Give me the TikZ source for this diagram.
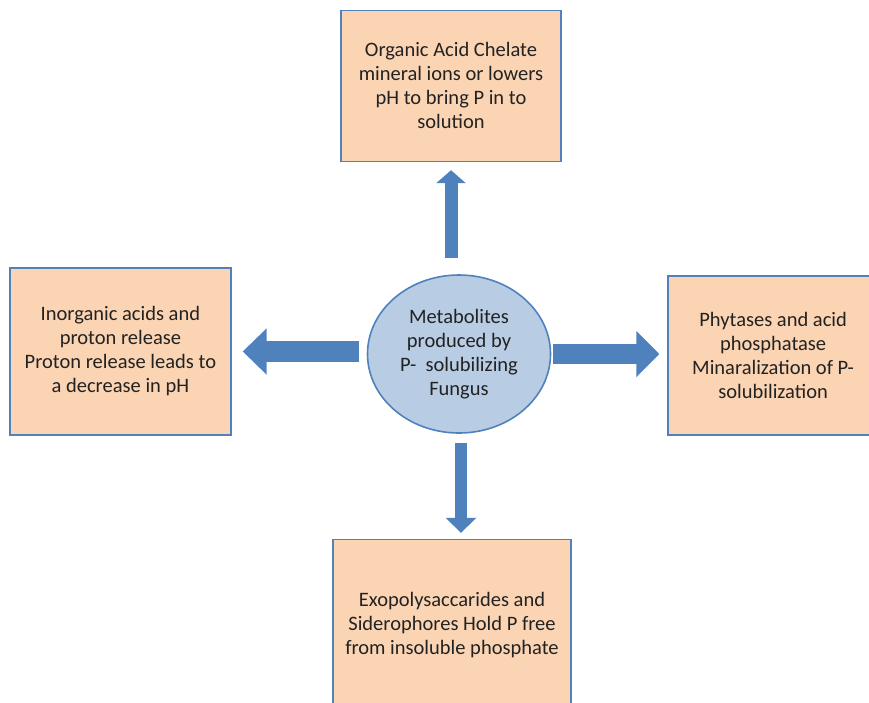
\documentclass[tikz,border=0pt]{standalone}
\usepackage{fontspec}
\setmainfont{Carlito}
\usepackage{xcolor}
\usepackage{tikz}
\usetikzlibrary{arrows.meta,positioning,shapes.geometric}

\definecolor{peach}{HTML}{FBD4B4}
\definecolor{edgeblue}{HTML}{4F81BD}
\definecolor{paleblue}{HTML}{B8CCE4}
\definecolor{inkgray}{HTML}{222222}

\begin{document}
\begin{tikzpicture}[
  x=1pt, y=-1pt,
  every node/.style={font=\fontsize{20.5}{24}\selectfont, text=inkgray},
  box/.style={draw=edgeblue, line width=1.6pt, fill=peach, align=center},
  hub/.style={ellipse, draw=edgeblue, line width=1.6pt, fill=paleblue, align=center,
    minimum width=183pt, minimum height=158pt, inner sep=0pt},
  blockarrow/.style={edgeblue, line width=#1}
]
\useasboundingbox (0,0) rectangle (869,702);
\clip (0,0) rectangle (869,702);

\node[hub] (fungus) at (459,354) {Metabolites\\produced by\\P-\ \ solubilizing\\Fungus};

\node[box, minimum width=220pt, minimum height=151pt, above=112pt of fungus, xshift=-8pt] (organic)
  {Organic Acid Chelate\\mineral ions or lowers\\pH to bring P in to\\solution};
\node[box, minimum width=221pt, minimum height=167pt, left=135pt of fungus, yshift=2.5pt] (inorganic)
  {Inorganic acids and\\proton release\\Proton release leads to\\a decrease in pH};
\node[box, minimum width=210pt, minimum height=159pt, right=116pt of fungus, yshift=-1.5pt] (phytase)
  {Phytases and acid\\phosphatase\\Minaralization of P-\\solubilization};
\node[box, minimum width=238pt, minimum height=170pt, below=105pt of fungus, xshift=-7pt] (exo)
  {Exopolysaccarides and\\Siderophores Hold P free\\from insoluble phosphate};

% block arrows out of the hub
\draw[blockarrow=13pt, -{Triangle[width=29pt,length=13pt]}, shorten <=16pt, shorten >=8pt]
  (organic.south |- fungus.north) -- (organic.south);
\draw[blockarrow=21pt, -{Triangle[width=45pt,length=24pt]}, shorten <=8pt, shorten >=11pt]
  (fungus.west |- inorganic.east) -- (inorganic.east);
\draw[blockarrow=20pt, -{Triangle[width=45pt,length=23pt]}, shorten <=2pt, shorten >=8pt]
  (fungus.east) -- (phytase.west |- fungus.east);
\draw[blockarrow=12pt, -{Triangle[width=30pt,length=15pt]}, shorten <=9pt, shorten >=6pt]
  ([xshift=2pt]fungus.south) -- ([xshift=2pt]fungus.south |- exo.north);
\end{tikzpicture}
\end{document}
